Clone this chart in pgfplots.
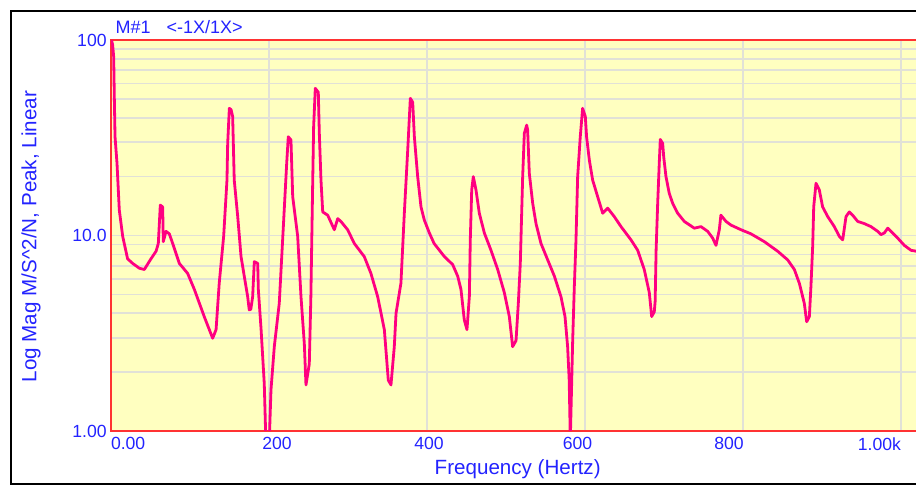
\documentclass[border=0pt]{standalone}
\usepackage{fontspec}
\setmainfont{Liberation Sans}
\usepackage{pgfplots}
\pgfplotsset{compat=1.18}
\definecolor{plotbg}{RGB}{255,255,192}
\definecolor{frfline}{RGB}{255,0,128}
\definecolor{axred}{RGB}{255,50,50}
\definecolor{lblue}{RGB}{35,35,255}
\definecolor{gridgray}{RGB}{225,225,215}

\begin{document}
\begin{tikzpicture}
% outer frame (right side falls off the page)
\draw[black, line width=1pt] (470pt,237.5pt) -- (5.25pt,237.5pt) -- (5.25pt,1pt) -- (470pt,1pt);
\begin{axis}[
  at={(55.5pt,27.5pt)}, anchor=south west,
  scale only axis,
  width=410.8pt, height=195.5pt,
  xmin=0, xmax=1040,
  ymode=log, ymin=1, ymax=100,
  axis background/.style={fill=plotbg},
  axis line style={axred, line width=0.9pt},
  grid=both,
  major grid style={gridgray, line width=0.8pt},
  minor grid style={gridgray, line width=0.8pt},
  minor x tick num=0,
  major tick length=0pt, minor tick length=0pt,
  xtick={0,200,400,600,800,1000},
  xticklabels={\rlap{0.00},\hspace*{8pt}200,\hspace*{2pt}400,600\hspace*{7.5pt},800\hspace*{14pt},\llap{1.00k}},
  ytick={1,10,100},
  yticklabels={1.00,10.0,100},
  tick label style={lblue, font=\fontsize{8.8}{10}\selectfont},
  xticklabel style={anchor=north, inner sep=0pt, yshift=-3pt},
  yticklabel style={anchor=east, inner sep=0pt, xshift=-2pt},
  xlabel={Frequency (Hertz)},
  ylabel={Log Mag M/S\textasciicircum 2/N, Peak, Linear},
  label style={lblue, font=\fontsize{10.3}{12}\selectfont},
  xlabel style={at={(axis description cs:0.495,-0.097)}, anchor=center},
  ylabel style={at={(axis description cs:-0.0974,0.497)}, anchor=center},
  title={M\#1\hspace{8pt}<-1X/1X>},
  title style={at={(axis description cs:0.005,1)}, anchor=base west, yshift=-3pt, inner sep=0pt, lblue, font=\fontsize{9}{11}\selectfont},
]
\addplot[frfline, line width=1.4pt, line join=round] coordinates {
(0.5,100) (2,95) (3.4,82) (4.2,51) (5.1,32) (7.6,23.4) (10.5,13.5) (14.8,9.9)
(21,7.6) (27.4,7.2) (35.9,6.8) (42.2,6.7) (50.6,7.6) (57,8.3) (59.9,9.1)
(62.4,14.3) (65.4,14) (66.2,9.3) (69.6,10.5) (73.8,10.2) (78.1,9.1) (86.5,7.2)
(97,6.4) (105.5,5.3) (118,3.85) (128.7,2.98) (133,3.3) (137,5.7) (142.6,9.9)
(146.8,19.2) (147.7,29.6) (149.8,44.7) (152,44) (154,40.6) (156,19.2)
(160.4,12.5) (164.6,7.8) (173,4.86) (175,4.16) (177,4.2) (179.3,4.86)
(181.4,7.35) (185.7,7.2) (186.5,5.3) (190,3.3) (194,1.75) (196,0.9)
(200.4,0.9) (202.5,1.62) (206.7,2.7) (213,4.5) (218.6,12) (222.4,23.4)
(224.4,32) (227.8,30.8) (230,15.8) (236.3,9.9) (240.5,4.86) (244.7,2.8)
(246.8,1.72) (251,2.2) (253,4.86) (255.3,18.5) (256.5,36) (258.6,56.6)
(262.4,54) (263.7,33.3) (265.8,19.2) (268,13.2) (274.3,12.7) (282.7,10.7)
(287,12.2) (291,11.8) (299.6,10.7) (308,9.1) (320.6,7.8) (329,6.4)
(337.6,4.86) (346,3.3) (351,1.82) (354.4,1.72) (358.6,2.7) (360.8,4.0)
(367,5.7) (371.3,13) (375.6,27.4) (378.9,50.3) (381.9,48) (384,32)
(388.2,20) (392.4,14) (396.6,12) (403,10.3) (409,9.1) (422,7.8) (432.5,7.1)
(438.8,6.2) (443,5.3) (447.2,3.7) (450.6,3.3) (453.6,4.86) (454.8,9.5)
(456.6,17.1) (458.6,20) (462,17.1) (466.2,13) (472.6,10.3) (481,8.4)
(489.5,6.7) (497.9,5.1) (504.2,3.85) (508.4,2.7) (512.7,2.9) (515.6,4.5)
(518.1,7.2) (521.1,20) (523.2,33.3) (526.2,36.7) (527.4,34.6) (529.5,20.8)
(533.8,14.6) (538,11.5) (544.3,9.1) (552.8,7.5) (561.2,6.2) (569.6,4.86)
(574.7,3.85) (578,2.7) (580,1.82) (581.4,0.9) (583.2,1.82) (584.4,2.9)
(586.5,5.5) (588.6,9.5) (590.7,20) (594,32) (597,44.7) (600.4,40.6)
(602,32) (605.5,24.3) (609.7,19.2) (616,15.8) (622.4,13) (628.7,13.8)
(637,12.5) (645.6,11.1) (658.2,9.5) (666.7,8.4) (675,6.7) (681.4,5.1)
(684.4,3.85) (687.7,4.07) (688.8,4.6) (690,8.4) (692,14.6) (694,23.4)
(695.3,31) (698.3,29.6) (699.6,25.3) (702.5,20) (706.7,16.4) (711,14.6)
(717.3,13) (725.7,11.8) (738.4,10.9) (746.8,11.1) (755.3,10.5) (761.6,9.7)
(765.8,8.9) (770,10.7) (772,12.7) (778.5,11.8) (784.8,11.3) (797.5,10.7)
(810,10.2) (827,9.3) (844,8.3) (856.6,7.5) (865,6.7) (871.3,5.7)
(877.6,4.5) (880.6,3.62) (884,3.85) (886,5.5) (888.2,8.8) (889.5,14)
(892.4,18.5) (896.6,17.1) (900.8,14) (907.2,12.5) (915.6,11.1) (921.9,9.9)
(926.2,9.5) (930.4,12.5) (934.6,13.2) (938.8,12.7) (945.2,11.8) (953.6,11.5)
(962,11.1) (970.5,10.5) (974.7,10.1) (978.9,10.3) (983.2,10.9) (987.3,10.5)
(995.8,9.7) (1004.2,8.9) (1012.7,8.4) (1020,8.3) (1030,8.0)
};
\end{axis}
\pgfresetboundingbox
\useasboundingbox (0,0) rectangle (458pt,243pt);
\end{tikzpicture}
\end{document}
